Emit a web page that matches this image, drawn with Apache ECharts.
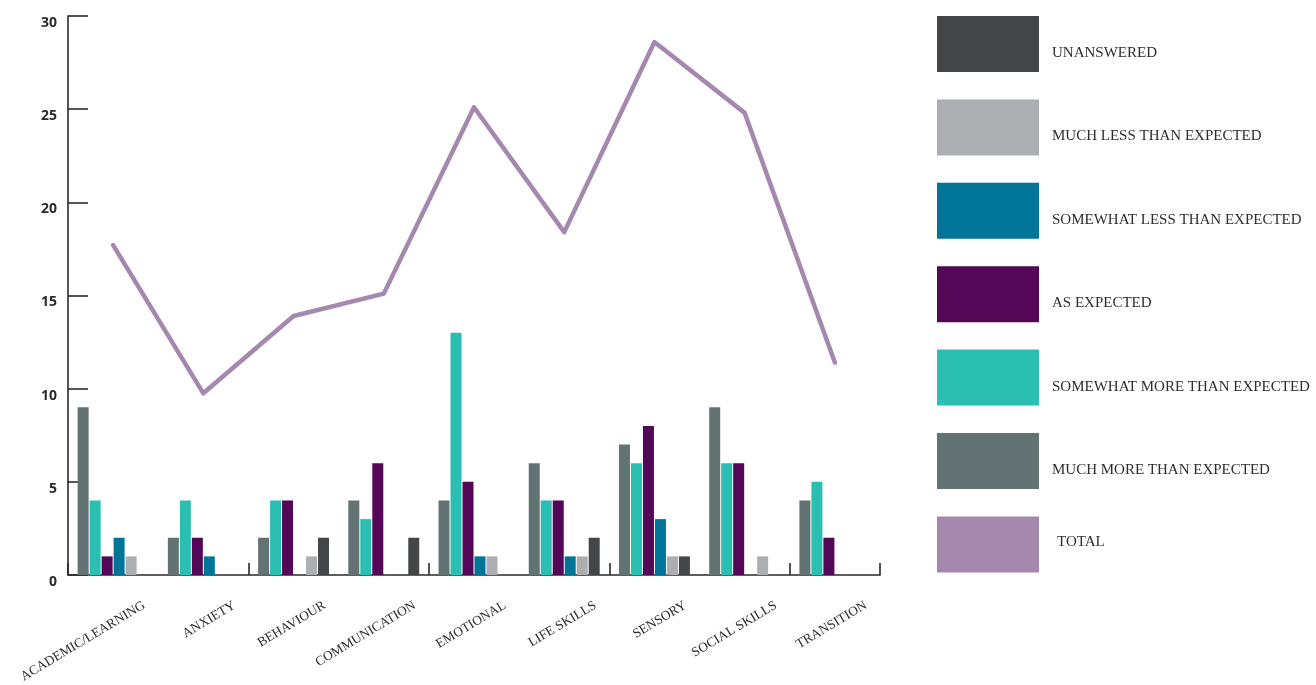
<!DOCTYPE html>
<html>
<head>
<meta charset="utf-8">
<title>Outcomes by area</title>
<script src="https://cdn.jsdelivr.net/npm/echarts@6/dist/echarts.min.js"></script>
<style>
  html, body { margin: 0; padding: 0; background: #ffffff; }
  #chart { width: 1316px; height: 685px; }
</style>
</head>
<body>
<div id="chart"></div>
<script>
// Areas along the horizontal axis
const categories = ['ACADEMIC/LEARNING', 'ANXIETY', 'BEHAVIOUR', 'COMMUNICATION', 'EMOTIONAL',
  'LIFE SKILLS', 'SENSORY', 'SOCIAL SKILLS', 'TRANSITION'];

// Response counts per area
const muchMore     = [9, 2, 2, 4, 4, 6, 7, 9, 4];
const somewhatMore = [4, 4, 4, 3, 13, 4, 6, 6, 5];
const asExpected   = [1, 2, 4, 6, 5, 4, 8, 6, 2];
const somewhatLess = [2, 1, 0, 0, 1, 1, 3, 0, 0];
const muchLess     = [1, 0, 1, 0, 1, 1, 1, 1, 0];
const unanswered   = [0, 0, 2, 2, 0, 2, 1, 0, 0];

// Total line
const total = [17.7, 9.75, 13.9, 15.1, 25.1, 18.4, 28.6, 24.8, 11.4];

// Value axis ticks
const yTicks = { min: 0, max: 30, interval: 5 };

const names = {
  unanswered: 'UNANSWERED',
  muchLess: 'MUCH LESS THAN EXPECTED',
  somewhatLess: 'SOMEWHAT LESS THAN EXPECTED',
  asExpected: 'AS EXPECTED',
  somewhatMore: 'SOMEWHAT MORE THAN EXPECTED',
  muchMore: 'MUCH MORE THAN EXPECTED',
  total: 'TOTAL'
};

const colors = {
  muchMore: '#637272',
  somewhatMore: '#2bbfb2',
  asExpected: '#540757',
  somewhatLess: '#007598',
  muchLess: '#adaeb1',
  unanswered: '#454647',
  total: '#a588ae'
};

const serif = '"Liberation Serif", "DejaVu Serif", serif';

function barSeries(key, values) {
  return {
    name: names[key],
    type: 'bar',
    xAxisIndex: 0,
    yAxisIndex: 0,
    data: values,
    barWidth: 11,
    barGap: '9%',
    itemStyle: { color: colors[key] },
    emphasis: { disabled: true }
  };
}

const legendOrder = ['unanswered', 'muchLess', 'somewhatLess', 'asExpected', 'somewhatMore', 'muchMore', 'total'];

const option = {
  animation: false,
  backgroundColor: '#ffffff',
  grid: [
    { left: 68, top: 16, width: 812, height: 559 },
    // label grid: same size, shifted right so the slanted names sit under their groups
    { left: 99, top: 16, width: 812, height: 559 }
  ],
  legend: {
    orient: 'vertical',
    left: 937,
    top: 16,
    padding: 0,
    itemWidth: 102,
    itemHeight: 56,
    itemGap: 27.4,
    icon: 'rect',
    selectedMode: false,
    formatter: function (name) {
      return name === names.total ? '{t|' + name + '}' : '{a|' + name + '}';
    },
    textStyle: {
      fontFamily: serif,
      fontSize: 15,
      color: '#2e2e2e',
      rich: {
        a: { fontFamily: serif, fontSize: 15, color: '#2e2e2e', padding: [18, 0, 0, 8] },
        t: { fontFamily: serif, fontSize: 15, color: '#2e2e2e', padding: [0, 0, 4, 13] }
      }
    },
    data: legendOrder.map(function (k) {
      return { name: names[k], icon: 'rect', itemStyle: { borderWidth: 0 } };
    })
  },
  xAxis: [
    {
      type: 'category',
      gridIndex: 0,
      data: categories,
      boundaryGap: true,
      axisLine: { show: true, lineStyle: { color: '#2a2a2a', width: 1.6 } },
      axisTick: { show: true, inside: true, length: 12, lineStyle: { color: '#2a2a2a', width: 1.6 } },
      axisLabel: { show: false },
      splitLine: { show: false }
    },
    {
      type: 'category',
      gridIndex: 1,
      data: categories,
      boundaryGap: true,
      axisLine: { show: false },
      axisTick: { show: false },
      splitLine: { show: false },
      axisLabel: {
        show: true,
        interval: 0,
        rotate: 31,
        margin: 31,
        fontFamily: serif,
        fontSize: 13.3,
        color: '#2b2b2b'
      }
    }
  ],
  yAxis: [
    {
      type: 'value',
      gridIndex: 0,
      min: yTicks.min,
      max: yTicks.max,
      interval: yTicks.interval,
      axisLine: { show: true, lineStyle: { color: '#2a2a2a', width: 1.6 } },
      axisTick: { show: true, inside: true, length: 20, lineStyle: { color: '#2a2a2a', width: 1.6 } },
      splitLine: { show: false },
      axisLabel: {
        margin: 11,
        fontFamily: '"Open Sans", "DejaVu Sans", sans-serif',
        fontWeight: 'bold',
        fontSize: 14,
        color: '#2a2a2a',
        verticalAlign: 'top'
      }
    },
    { type: 'value', gridIndex: 1, min: 0, max: 30, show: false }
  ],
  series: [
    barSeries('muchMore', muchMore),
    barSeries('somewhatMore', somewhatMore),
    barSeries('asExpected', asExpected),
    barSeries('somewhatLess', somewhatLess),
    barSeries('muchLess', muchLess),
    barSeries('unanswered', unanswered),
    {
      name: names.total,
      type: 'line',
      xAxisIndex: 0,
      yAxisIndex: 0,
      data: total,
      showSymbol: false,
      symbol: 'none',
      z: 5,
      itemStyle: { color: colors.total },
      lineStyle: { color: colors.total, width: 4.5, join: 'round', cap: 'round' },
      emphasis: { disabled: true }
    }
  ]
};

const chart = echarts.init(document.getElementById('chart'), null, { renderer: 'canvas' });
chart.setOption(option);
</script>
</body>
</html>
